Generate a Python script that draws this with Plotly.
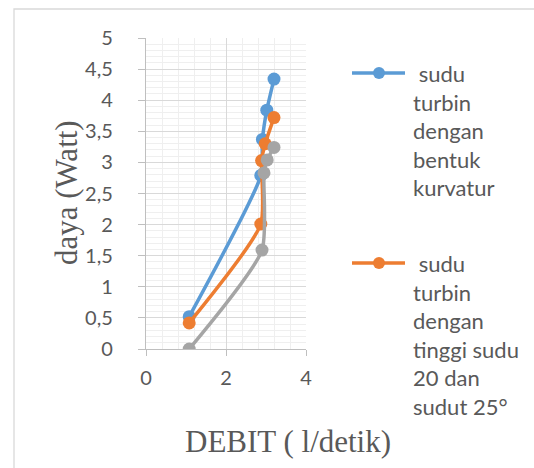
import plotly.graph_objects as go

# ---- data ----
debit_kurvatur = [1.08, 2.87, 2.91, 3.02, 3.20]
daya_kurvatur = [0.52, 2.79, 3.37, 3.84, 4.34]

debit_tinggi = [1.08, 2.87, 2.89, 2.98, 3.20]
daya_tinggi = [0.42, 2.01, 3.03, 3.30, 3.72]

debit_seri3 = [1.08, 2.90, 2.95, 3.03, 3.20]
daya_seri3 = [0.00, 1.59, 2.83, 3.04, 3.24]

names = [
    "sudu turbin dengan bentuk kurvatur",
    "sudu turbin dengan tinggi sudu 20 dan sudut 25°",
    "seri 3",
]
legend_lines = [
    ["\u00a0sudu", "turbin", "dengan", "bentuk", "kurvatur"],
    ["\u00a0sudu", "turbin", "dengan", "tinggi sudu", "20 dan", "sudut 25°"],
]
colors = ["#5B9BD5", "#ED7D31", "#A5A5A5"]

x_ticks = [0, 2, 4]
y_ticks = [0, 0.5, 1, 1.5, 2, 2.5, 3, 3.5, 4, 4.5, 5]

W, H = 534, 468
L, R, T, B = 146, 228, 38, 119
PW, PH = W - L - R, H - T - B


def xp(px):
    return (px - L) / PW


def yp(py):
    return (H - B - py) / PH


fig = go.Figure()
series = [(debit_kurvatur, daya_kurvatur), (debit_tinggi, daya_tinggi), (debit_seri3, daya_seri3)]
for (xs, ys), name, c in zip(series, names, colors):
    fig.add_trace(go.Scatter(
        x=xs, y=ys, name=name, mode="lines+markers",
        line=dict(color=c, width=3.5, shape="spline", smoothing=0.6),
        marker=dict(color=c, size=13),
        showlegend=False,
    ))

tick_font = dict(family="Lato", size=20, color="#595959")
fig.update_xaxes(
    range=[0, 4], tickvals=x_ticks, showgrid=True, gridcolor="#D9D9D9", gridwidth=1,
    minor=dict(dtick=0.4, showgrid=True, gridcolor="#EFEFEF", gridwidth=1),
    showline=True, linecolor="#BFBFBF", linewidth=1.3,
    ticks="outside", ticklen=6, tickcolor="#BFBFBF", tickfont=tick_font,
    ticklabelstandoff=5, zeroline=False,
)
fig.update_yaxes(
    range=[0, 5], tickvals=y_ticks, showgrid=True, gridcolor="#D9D9D9", gridwidth=1,
    minor=dict(dtick=0.1, showgrid=True, gridcolor="#EFEFEF", gridwidth=1),
    showline=True, linecolor="#BFBFBF", linewidth=1.3,
    ticks="outside", ticklen=7, tickcolor="#BFBFBF", tickfont=tick_font,
    ticklabelstandoff=21, zeroline=False,
)

shapes = [dict(type="rect", xref="paper", yref="paper",
               x0=xp(14), y0=-5, x1=5, y1=yp(9),
               line=dict(color="#D9D9D9", width=1.3), fillcolor="rgba(0,0,0,0)", layer="below")]
annotations = []
legend_y = [73, 263]
for i, (lines, ly) in enumerate(zip(legend_lines, legend_y)):
    c = colors[i]
    shapes.append(dict(type="line", xref="paper", yref="paper",
                       x0=xp(352), x1=xp(405), y0=yp(ly), y1=yp(ly),
                       line=dict(color=c, width=3.5)))
    shapes.append(dict(type="circle", xref="paper", yref="paper",
                       xsizemode="pixel", ysizemode="pixel",
                       xanchor=xp(379), yanchor=yp(ly),
                       x0=-6, x1=6, y0=-6, y1=6,
                       line=dict(color=c, width=0), fillcolor=c))
    annotations.append(dict(
        xref="paper", yref="paper", x=xp(411), y=yp(ly - 15),
        xanchor="left", yanchor="top", align="left", showarrow=False,
        text="<br>".join(lines),
        font=dict(family="Lato", size=22, color="#595959"),
    ))

annotations.append(dict(xref="paper", yref="paper", x=xp(288), y=yp(441),
                        xanchor="center", yanchor="middle", showarrow=False,
                        text="DEBIT ( l/detik)",
                        font=dict(family="Liberation Serif", size=31, color="#595959")))
annotations.append(dict(xref="paper", yref="paper", x=xp(66), y=yp(193),
                        xanchor="center", yanchor="middle", showarrow=False, textangle=-90,
                        text="daya (Watt)",
                        font=dict(family="Liberation Serif", size=31, color="#595959")))

fig.update_layout(
    width=W, height=H, margin=dict(l=L, r=R, t=T, b=B, autoexpand=False),
    paper_bgcolor="white", plot_bgcolor="white",
    separators=",.", shapes=shapes, annotations=annotations, showlegend=False,
)

fig.write_html("out.html")
